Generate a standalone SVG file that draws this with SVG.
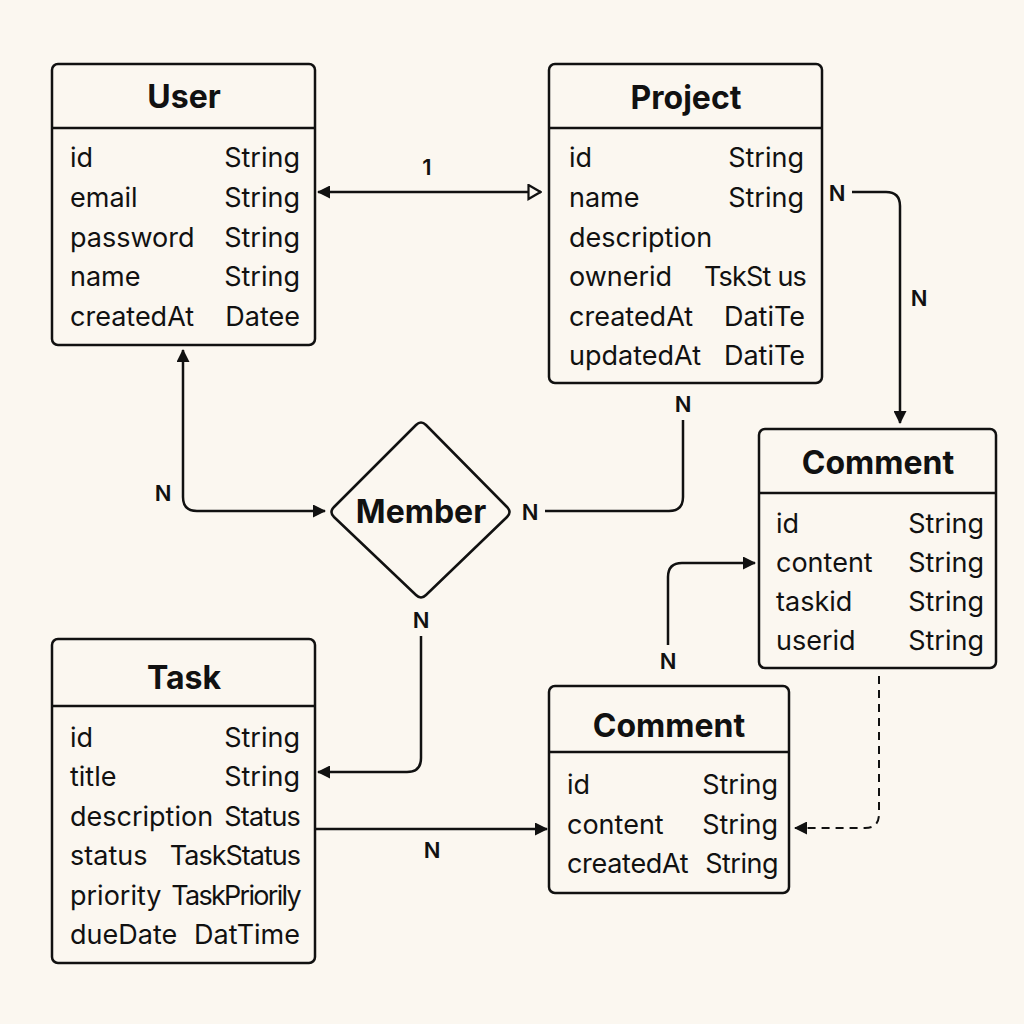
<svg xmlns="http://www.w3.org/2000/svg" width="1024" height="1024" viewBox="0 0 1024 1024">
<defs>
<style>
.box{fill:#fbf7f0;stroke:#111;stroke-width:2.5}
.sep{stroke:#111;stroke-width:2.5}
.title{font-family:Inter,"Liberation Sans",sans-serif;font-weight:700;font-size:32px;fill:#111;text-anchor:middle}
.f{font-family:Inter,"Liberation Sans",sans-serif;font-size:27px;fill:#111}
.t{font-family:Inter,"Liberation Sans",sans-serif;font-size:27px;fill:#111;text-anchor:end}
.lbl{font-family:Inter,"Liberation Sans",sans-serif;font-size:22px;font-weight:600;fill:#111;text-anchor:middle}
.c{fill:none;stroke:#111;stroke-width:2.5}
.d{fill:none;stroke:#111;stroke-width:2;stroke-dasharray:8 6}
</style>
<marker id="af" viewBox="0 0 13 13" refX="12" refY="6.5" markerWidth="13" markerHeight="13" markerUnits="userSpaceOnUse" orient="auto-start-reverse">
<path d="M0,0 L13,6.5 L0,13 Z" fill="#111"/>
</marker>
<marker id="ao" viewBox="0 0 15 17" refX="14" refY="8.5" markerWidth="15" markerHeight="17" markerUnits="userSpaceOnUse" orient="auto">
<path d="M1.5,1.5 L13.5,8.5 L1.5,15.5 Z" fill="#fbf7f0" stroke="#111" stroke-width="2.2"/>
</marker>
</defs>
<rect width="1024" height="1024" fill="#fbf7f0"/>

<g id="connectors">
<line class="c" x1="318" y1="192" x2="541" y2="192" marker-start="url(#af)" marker-end="url(#ao)"/>
<path class="c" d="M852,192 H886 Q900,192 900,206 V423" marker-end="url(#af)"/>
<path class="c" d="M683,420 V497 Q683,511 669,511 H545"/>
<path class="c" d="M183,350 V497 Q183,511 197,511 H325" marker-start="url(#af)" marker-end="url(#af)"/>
<path class="c" d="M421,636 V758 Q421,772 407,772 H318" marker-end="url(#af)"/>
<line class="c" x1="316" y1="829" x2="547" y2="829" marker-end="url(#af)"/>
<path class="c" d="M668,645 V577 Q668,563 682,563 H755" marker-end="url(#af)"/>
<path class="d" d="M879,676 V814 Q879,828 865,828 H795" marker-end="url(#af)"/>
<text class="lbl" x="427" y="175" font-size="25">1</text>
<text class="lbl" x="837" y="201">N</text>
<text class="lbl" x="919" y="306">N</text>
<text class="lbl" x="683" y="412">N</text>
<text class="lbl" x="530" y="520">N</text>
<text class="lbl" x="163" y="501">N</text>
<text class="lbl" x="421" y="628">N</text>
<text class="lbl" x="432" y="858">N</text>
<text class="lbl" x="668" y="669">N</text>
</g>

<g id="user">
<rect class="box" x="52" y="64" width="263" height="281" rx="6"/>
<line class="sep" x1="52" y1="128" x2="315" y2="128"/>
<text class="title" x="184" y="108">User</text>
<text class="f" x="70" y="167">id</text><text class="t" x="300" y="167">String</text>
<text class="f" x="70" y="207">email</text><text class="t" x="300" y="207">String</text>
<text class="f" x="70" y="247">password</text><text class="t" x="300" y="247">String</text>
<text class="f" x="70" y="286">name</text><text class="t" x="300" y="286">String</text>
<text class="f" x="70" y="326">createdAt</text><text class="t" x="300" y="326">Datee</text>
</g>

<g id="project">
<rect class="box" x="549" y="64" width="273" height="319" rx="6"/>
<line class="sep" x1="549" y1="128" x2="822" y2="128"/>
<text class="title" x="686" y="109">Project</text>
<text class="f" x="569" y="167">id</text><text class="t" x="804" y="167">String</text>
<text class="f" x="569" y="207">name</text><text class="t" x="804" y="207">String</text>
<text class="f" x="569" y="247">description</text>
<text class="f" x="569" y="286">ownerid</text><text class="t" x="806" y="286" font-size="24" letter-spacing="-0.8">TskSt us</text>
<text class="f" x="569" y="326">createdAt</text><text class="t" x="805" y="326">DatiTe</text>
<text class="f" x="569" y="365">updatedAt</text><text class="t" x="805" y="365">DatiTe</text>
</g>

<g id="member">
<path class="box" d="M416,425 Q421,420 426,425 L507,507 Q512,512 507,517 L426,595 Q421,600 416,595 L334,517 Q329,512 334,507 Z"/>
<text class="title" x="421" y="523" font-size="30">Member</text>
</g>

<g id="comment-right">
<rect class="box" x="759" y="429" width="237" height="239" rx="6"/>
<line class="sep" x1="759" y1="493" x2="996" y2="493"/>
<text class="title" x="878" y="474">Comment</text>
<text class="f" x="776" y="533">id</text><text class="t" x="984" y="533">String</text>
<text class="f" x="776" y="572">content</text><text class="t" x="984" y="572">String</text>
<text class="f" x="776" y="611">taskid</text><text class="t" x="984" y="611">String</text>
<text class="f" x="776" y="650">userid</text><text class="t" x="984" y="650">String</text>
</g>

<g id="task">
<rect class="box" x="52" y="639" width="263" height="324" rx="6"/>
<line class="sep" x1="52" y1="706" x2="315" y2="706"/>
<text class="title" x="184" y="689">Task</text>
<text class="f" x="70" y="747">id</text><text class="t" x="300" y="747">String</text>
<text class="f" x="70" y="786">title</text><text class="t" x="300" y="786">String</text>
<text class="f" x="70" y="826">description</text><text class="t" x="300" y="826" letter-spacing="-0.8">Status</text>
<text class="f" x="70" y="865">status</text><text class="t" x="300" y="865" letter-spacing="-1">TaskStatus</text>
<text class="f" x="70" y="905">priority</text><text class="t" x="300" y="905" letter-spacing="-1.7">TaskPriorily</text>
<text class="f" x="70" y="944">dueDate</text><text class="t" x="300" y="944">DatTime</text>
</g>

<g id="comment-bottom">
<rect class="box" x="549" y="686" width="240" height="207" rx="6"/>
<line class="sep" x1="549" y1="752" x2="789" y2="752"/>
<text class="title" x="669" y="737">Comment</text>
<text class="f" x="567" y="794">id</text><text class="t" x="778" y="794">String</text>
<text class="f" x="567" y="834">content</text><text class="t" x="778" y="834">String</text>
<text class="f" x="567" y="873" letter-spacing="-0.3">createdAt</text><text class="t" x="778" y="873" letter-spacing="-0.5">String</text>
</g>
</svg>
